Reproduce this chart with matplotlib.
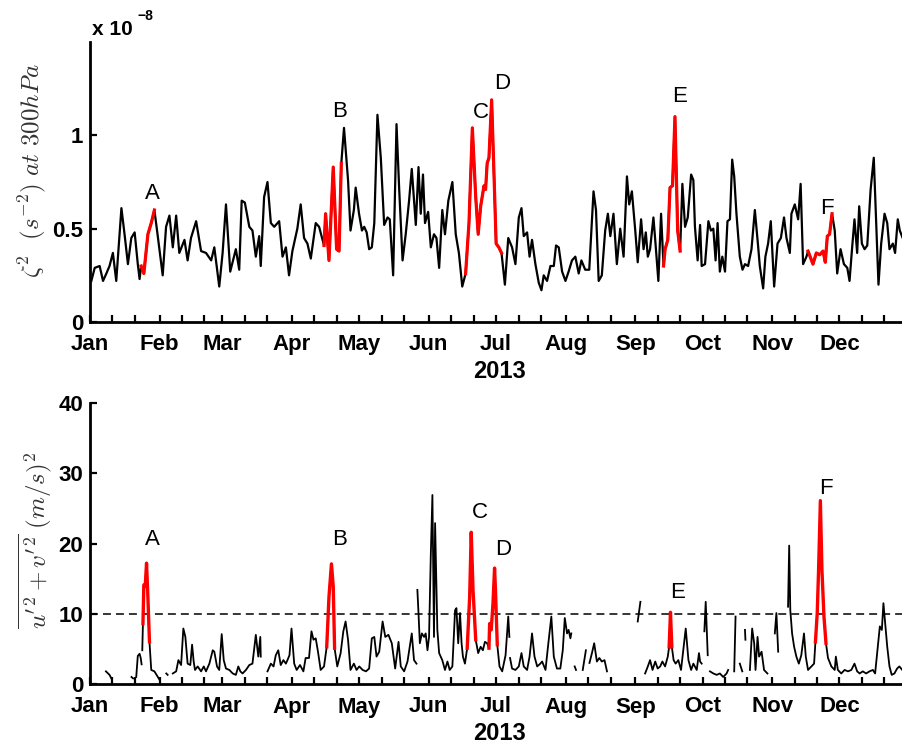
import numpy as np
import matplotlib
matplotlib.use("Agg")
import matplotlib.pyplot as plt

plt.rcParams['font.family'] = ['Liberation Sans', 'DejaVu Sans']
plt.rcParams['mathtext.fontset'] = 'cm'

nan = np.nan

# days since 1 Jan 2013 / relative vorticity squared at 300 hPa (x 1e-8 s^-2)
vort_day = [0.6, 2.1, 4.3, 5.8, 7.3, 8.7, 10.2, 11.7, 14.0, 15.4, 16.9, 18.4, 19.9, 21.3, 22.1,
            22.8, 24.0, 25.8, 27.3, 28.7, 30.2, 32.4, 33.9, 35.4, 36.9, 38.4, 39.8, 42.1, 43.5,
            45.0, 47.3, 49.5, 51.7, 54.0, 55.4, 57.6, 59.1, 60.6, 62.5, 65.0, 66.5, 67.6, 69.0,
            71.0, 72.4, 73.9, 75.4, 76.1, 77.6, 79.1, 80.6, 82.1, 84.3, 85.8, 87.3, 88.7, 90.2,
            92.4, 93.9, 95.4, 96.9, 98.4, 100.6, 102.1, 104.3, 105.0, 106.5, 108.4, 109.9, 111.0,
            112.0, 113.2, 115.0, 116.1, 117.6, 118.4, 119.9, 121.2, 122.2, 123.3, 124.4, 125.6,
            126.7, 128.1, 129.6, 131.1, 132.6, 133.6, 135.1, 136.6, 137.8, 139.3, 140.7, 142.2,
            143.4, 144.4, 145.2, 146.4, 147.4, 148.4, 149.3, 150.7, 151.9, 153.3, 154.4, 155.6,
            157.0, 158.2, 159.7, 161.5, 163.0, 164.4, 165.9, 167.4, 168.9, 170.4, 171.9, 173.0,
            174.1, 175.6, 176.3, 177.0, 177.8, 179.0, 180.0, 181.0, 182.2, 183.4, 184.9, 186.4,
            188.1, 189.6, 191.1, 192.3, 193.3, 194.8, 195.9, 197.0, 198.5, 200.0, 201.2, 202.2,
            203.7, 205.2, 206.7, 207.7, 208.9, 210.4, 211.9, 213.3, 214.8, 216.3, 217.8, 219.0,
            220.7, 222.5, 224.4, 225.5, 226.7, 228.1, 229.6, 230.8, 231.9, 233.3, 234.8, 236.3,
            237.8, 239.3, 240.3, 241.5, 243.0, 244.1, 245.6, 246.7, 247.7, 248.6, 249.6, 251.1,
            251.9, 253.3, 254.5, 255.6, 256.3, 257.5, 258.5, 259.6, 260.7, 261.9, 263.0, 264.0,
            265.2, 266.4, 267.9, 268.9, 269.6, 270.8, 271.9, 272.6, 274.1, 275.6, 276.7, 277.8,
            278.8, 279.7, 280.7, 281.8, 283.0, 284.1, 285.2, 286.2, 287.1, 288.1, 289.6, 290.8,
            291.9, 293.3, 294.8, 296.3, 297.8, 298.5, 300.0, 301.0, 302.2, 303.4, 304.9, 306.4,
            307.9, 309.3, 310.4, 311.9, 312.6, 314.1, 315.6, 316.7, 317.8, 319.3, 320.0, 322.2,
            323.7, 325.2, 326.7, 327.7, 328.6, 329.6, 330.7, 331.9, 333.0, 334.5, 336.0, 337.5,
            338.5, 339.6, 340.7, 341.9, 342.8, 344.0, 345.2, 346.4, 347.9, 349.3, 350.4, 351.4,
            352.6, 354.1, 355.3, 356.3, 357.8, 358.8, 360.0, 360.9, 362.5, 364.0]
vort_1e8 = [0.22, 0.29, 0.30, 0.22, 0.26, 0.30, 0.37, 0.22, 0.61, 0.47, 0.31, 0.45, 0.48, 0.31, 0.23,
            0.30, 0.26, 0.47, 0.53, 0.60, 0.46, 0.25, 0.51, 0.57, 0.40, 0.57, 0.37, 0.44, 0.33,
            0.45, 0.54, 0.38, 0.37, 0.33, 0.40, 0.19, 0.37, 0.63, 0.27, 0.39, 0.28, 0.65, 0.64,
            0.51, 0.49, 0.35, 0.46, 0.30, 0.67, 0.75, 0.53, 0.51, 0.54, 0.35, 0.40, 0.25, 0.38,
            0.50, 0.63, 0.45, 0.42, 0.34, 0.53, 0.51, 0.41, 0.58, 0.33, 0.83, 0.39, 0.38,
            0.85, 1.04, 0.76, 0.49, 0.60, 0.72, 0.58, 0.49, 0.51, 0.48, 0.39, 0.40,
            0.53, 1.11, 0.88, 0.52, 0.56, 0.55, 0.25, 1.06, 0.71, 0.33, 0.47, 0.65,
            0.82, 0.65, 0.52, 0.83, 0.58, 0.79, 0.53, 0.59, 0.40, 0.47, 0.45, 0.29,
            0.60, 0.47, 0.65, 0.75, 0.47, 0.37, 0.19, 0.26, 0.53, 1.04, 0.67, 0.47,
            0.62, 0.73, 0.71, 0.85, 0.88, 1.19, 0.81, 0.42, 0.40, 0.37, 0.20, 0.45,
            0.40, 0.31, 0.56, 0.61, 0.46, 0.48, 0.35, 0.44, 0.31, 0.21, 0.17, 0.25,
            0.22, 0.30, 0.30, 0.41, 0.40, 0.27, 0.22, 0.27, 0.33, 0.35, 0.26, 0.33,
            0.28, 0.28, 0.70, 0.60, 0.22, 0.25, 0.49, 0.58, 0.46, 0.58, 0.31, 0.50,
            0.35, 0.78, 0.63, 0.70, 0.49, 0.32, 0.55, 0.39, 0.48, 0.35, 0.39, 0.56,
            0.44, 0.22, 0.58, 0.30, 0.39, 0.44, 0.72, 0.73, 1.10, 0.49, 0.38, 0.74,
            0.51, 0.56, 0.79, 0.76, 0.51, 0.33, 0.52, 0.30, 0.31, 0.54, 0.49, 0.50,
            0.33, 0.53, 0.27, 0.35, 0.27, 0.54, 0.55, 0.87, 0.78, 0.58, 0.35, 0.28,
            0.31, 0.30, 0.39, 0.60, 0.40, 0.30, 0.18, 0.35, 0.42, 0.54, 0.19, 0.42,
            0.45, 0.56, 0.45, 0.37, 0.58, 0.63, 0.55, 0.74, 0.31, 0.35, 0.38, 0.31,
            0.37, 0.36, 0.38, 0.32, 0.46, 0.47, 0.58, 0.49, 0.26, 0.39, 0.31, 0.29,
            0.22, 0.39, 0.55, 0.37, 0.62, 0.42, 0.39, 0.41, 0.71, 0.88, 0.53, 0.20,
            0.42, 0.58, 0.53, 0.39, 0.42, 0.37, 0.55, 0.49, 0.44, 0.46]

# days since 1 Jan 2013 / eddy kinetic energy u'^2+v'^2 (m/s)^2, nan = missing
wind_day = [7.1, 8.7, 9.5, nan, 18.5, 19.2, nan, 20.6, 21.3, 22.1, 22.6, 23.0, nan,
            23.3, 23.6, 24.0, 24.6, 25.2, 25.8, 26.5, 27.3, 28.7, 30.2, 31.0, nan, 34.0, 34.6, nan,
            36.9, 38.4, 39.4, 40.6, 41.6, 42.5, 43.5, 44.7, 45.5, 46.2, 46.8, 48.0, 49.5, 50.7,
            51.7, 53.2, 54.7, 55.4, 56.6, 57.6, 58.7, 59.6, 60.6, 62.1, 63.6, 65.0, 66.1, 67.0,
            68.0, 69.5, 71.0, 72.4, 73.9, 75.0, 75.9, 76.1, nan,
            79.1, 80.6, 81.8, 82.8, 83.9, 85.0, 86.2, 87.3, 88.0, 88.9, 89.8, 91.0, 92.1, 93.6,
            95.1, 96.1, 97.6, 98.7, 99.6, 100.6, 101.6, 102.8, 104.3, 105.5, 106.5, 107.6, 108.4,
            109.0, 110.2, 111.7, 112.9, 113.9, 115.0, 116.1, 117.6, 118.8, 120.0, 121.5, 123.0,
            124.4, 125.6, 126.7, 127.7, 128.9, 130.4, 131.6, 133.0, 134.5, 136.0, 137.5, 138.5,
            140.0, 141.5, 143.4, 144.4, 145.5, nan, 145.9, 146.4, 147.0, 147.9, 148.9, 149.6,
            150.4, 151.1, 151.9, 152.6, 153.3, 153.8, 154.8, 155.6, 157.0, 158.2, 159.3, 160.3,
            161.5, 162.7, 163.3, 164.1, 164.9, 165.6, 166.2, 167.1, 168.1, 169.2, 169.9, 170.7,
            171.9, 173.0, 174.1, 175.1, 176.0, 177.0, 177.8, 178.1, 178.8, 179.6, 180.3, 180.7,
            181.5, 182.5, 183.7, 185.2, 186.4, 186.9, nan, 187.2, 188.1, 189.6, 191.1, 192.3,
            193.3, 194.8, 195.9, 197.0, 198.1, 199.3, 200.7, 201.5, 203.0, 204.1, 205.6, 206.7,
            208.1, 209.6, 210.7, 211.6, 212.6, 213.3, 214.1, 214.5, nan, 216.0, 216.6, nan,
            219.6, 221.0, nan, 222.6, 223.7, 224.7, 225.9, 227.0, 228.1, 229.3, 230.4, nan,
            244.1, 245.3, nan,
            247.4, 248.6, 249.6, 250.7, 251.9, 253.0, 254.1, 255.1, 256.3, 257.5, 258.1, 258.7,
            259.3, 260.1, 261.0, 262.2, 263.4, 264.4, 265.5, 266.7, 267.9, 268.9, 270.4, 271.4,
            271.9, 272.6, nan, 273.8, 274.4, 275.3, nan, 276.3, 277.8, 279.3, 280.7, 282.2, 283.7,
            284.4, nan, 287.1, 287.7, nan, 289.6, 290.7, nan, 291.9, 292.1, nan, 294.1, 295.1,
            296.0, 296.6, 297.5, 298.2, 299.3, 300.4, 301.9, nan, 305.2, 305.9, 306.7, nan,
            311.1, 311.6, 312.1, 312.9, 313.8, 314.8, 315.9, 317.0, 318.2, 319.0, 320.0, 321.5,
            322.7, 323.3, 324.1, 324.7, 325.5, 326.2, 327.1, 328.0, 328.9, 330.4, 331.9, 332.4,
            333.3, 334.8, 336.3, 337.8, 339.3, 340.7, 341.9, 343.0, 344.4, 345.9, 347.4, 348.9,
            349.9, 351.1, 352.0, 352.9, 353.6, 354.4, 355.3, 356.3, 357.3, 358.5, 359.7, 360.7,
            362.0]
wind_val = [1.8, 1.3, 0.8, nan, 1.0, 0.8, nan, 1.0, 4.0, 4.3, 3.7, 2.8, nan,
            4.8, 8.6, 14.1, 13.9, 17.2, 12.4, 6.0, 2.0, 1.8, 1.0, 0.6, nan, 1.5, 1.3, nan,
            1.5, 1.8, 3.4, 2.7, 7.9, 6.7, 2.9, 2.7, 5.6, 3.2, 2.0, 2.5, 1.8, 2.5,
            1.8, 2.9, 4.8, 4.6, 2.5, 2.0, 7.1, 3.4, 2.2, 2.0, 1.5, 1.3, 2.5, 1.8,
            1.5, 2.0, 2.7, 2.9, 7.0, 3.9, 6.7, 3.9, nan,
            1.8, 2.9, 2.5, 4.1, 4.8, 2.7, 3.4, 2.9, 3.4, 4.1, 7.9, 2.9, 2.0, 2.7,
            1.8, 3.7, 3.7, 7.5, 6.3, 6.5, 4.6, 2.0, 2.5, 5.3, 12.4, 17.1, 13.9,
            5.1, 2.5, 4.4, 7.5, 8.9, 6.3, 2.0, 2.9, 2.0, 2.5, 2.0, 1.8,
            2.2, 6.5, 6.7, 3.9, 4.6, 8.9, 6.7, 7.0, 5.8, 2.2, 6.0, 2.5,
            1.8, 3.2, 7.2, 3.4, 2.9, nan, 13.4, 10.1, 5.8, 7.2, 6.7, 7.2,
            4.8, 6.7, 18.6, 26.9, 6.7, 22.9, 7.7, 4.4, 3.4, 2.0, 3.2, 2.0,
            2.5, 10.5, 10.8, 5.8, 10.1, 5.8, 3.9, 2.9, 5.1, 12.4, 21.6, 13.4,
            6.3, 4.4, 5.3, 4.8, 6.0, 5.8, 5.1, 8.6, 7.7, 11.5, 16.5, 13.4,
            5.6, 2.5, 1.8, 4.1, 9.6, 6.7, nan, 3.7, 2.2, 2.0, 2.5, 4.4,
            2.5, 2.0, 3.9, 7.2, 3.9, 2.5, 2.9, 3.2, 2.0, 5.3, 9.6, 3.9,
            2.2, 2.2, 4.8, 9.4, 7.2, 7.7, 6.5, 7.2, nan, 2.5, 2.0, nan,
            2.0, 4.8, nan, 3.0, 4.4, 5.8, 3.2, 3.7, 3.2, 3.4, 1.8, nan,
            8.9, 11.7, nan,
            1.5, 2.5, 3.4, 2.0, 3.2, 2.2, 2.5, 3.2, 2.5, 3.9, 5.3, 10.2,
            5.3, 3.4, 2.9, 3.4, 2.0, 4.8, 7.9, 3.4, 2.0, 2.9, 2.0, 4.4,
            3.2, 2.9, nan, 7.5, 11.7, 4.1, nan, 1.8, 1.5, 1.3, 1.5, 1.0, 1.5,
            2.0, nan, 1.8, 9.6, nan, 2.9, 1.8, nan, 7.7, 6.3, nan, 2.0, 7.9,
            5.8, 2.0, 6.7, 3.9, 4.6, 2.0, 1.5, nan, 7.2, 10.1, 4.6, nan,
            11.0, 19.7, 10.5, 7.2, 5.3, 3.9, 2.9, 4.1, 7.2, 3.9, 2.0, 2.5,
            2.9, 6.0, 10.1, 16.2, 26.1, 16.2, 9.6, 5.8, 3.7, 2.5, 2.0, 3.9,
            2.0, 1.5, 2.0, 1.8, 2.0, 2.9, 1.8, 1.5, 1.8, 1.5, 1.8, 2.0,
            1.5, 5.3, 8.2, 7.7, 11.5, 8.6, 5.3, 2.5, 1.3, 1.5, 2.2, 2.5,
            2.0]

# highlighted event windows (days) and letter labels
events = ['A', 'B', 'C', 'D', 'E', 'F']
vort_red = [(22.5, 29.4), (104.3, 112.0), (167.4, 183.4), (255.5, 263.1), (319.8, 330.8)]
wind_red = [(23.5, 26.6), (105.4, 109.1), (168.0, 172.0), (177.7, 181.6), (258.0, 259.4), (323.2, 328.1)]
vort_lab_day = [27.6, 111.0, 174.0, 183.5, 262.7, 328.4]
vort_lab_val = [0.69, 1.13, 1.12, 1.28, 1.21, 0.61]
wind_lab_day = [27.6, 111.0, 173.8, 184.0, 262.0, 328.0]
wind_lab_val = [20.5, 20.5, 24.4, 19.2, 13.0, 27.9]
threshold = 10

months = ['Jan', 'Feb', 'Mar', 'Apr', 'May', 'Jun', 'Jul', 'Aug', 'Sep', 'Oct', 'Nov', 'Dec']
month_start = [0, 31, 59, 90, 120, 151, 181, 212, 243, 273, 304, 334]


def style_axes(ax):
    ax.set_xlim(0, 365)
    ax.spines['top'].set_visible(False)
    ax.spines['right'].set_visible(False)
    for s in ['left', 'bottom']:
        ax.spines[s].set_linewidth(2)
    ax.set_xticks(month_start)
    ax.set_xticklabels(months)
    ax.set_xticks([m + k for m in month_start for k in (10, 20)], minor=True)
    ax.tick_params(which='both', direction='in', length=5, width=1.6, labelsize=16)
    ax.tick_params(axis='x', pad=9)
    ax.tick_params(axis='y', pad=5)
    for t in ax.get_xticklabels() + ax.get_yticklabels():
        t.set_fontweight('bold')


def red_parts(ax, day, val, windows, lw):
    day = np.asarray(day)
    val = np.asarray(val)
    for lo, hi in windows:
        m = (day >= lo) & (day <= hi)
        ax.plot(day[m], val[m], color='red', lw=lw, zorder=3)


fig = plt.figure(figsize=(9.02, 7.46), dpi=100)
W, H = 902, 746
ax1 = fig.add_axes([90 / W, (H - 322) / H, 819 / W, 280 / H])
ax2 = fig.add_axes([90 / W, (H - 684) / H, 819 / W, 281 / H])

# top panel
ax1.plot(vort_day, vort_1e8, color='black', lw=1.6)
red_parts(ax1, vort_day, vort_1e8, vort_red, 2.3)
ax1.set_ylim(0, 1.5)
ax1.set_yticks([0, 0.5, 1])
ax1.set_yticklabels(['0', '0.5', '1'])
style_axes(ax1)
for s, d, v in zip(events, vort_lab_day, vort_lab_val):
    ax1.text(d, v, s, ha='center', va='center', fontsize=16)

# bottom panel
ax2.plot(wind_day, wind_val, color='black', lw=1.3)
red_parts(ax2, wind_day, wind_val, wind_red, 2.4)
ax2.axhline(threshold, color='black', lw=1.1, ls=(0, (5.2, 3.3)))
ax2.set_ylim(0, 40)
ax2.set_yticks([0, 10, 20, 30, 40])
style_axes(ax2)
for s, d, v in zip(events, wind_lab_day, wind_lab_val):
    ax2.text(d, v, s, ha='center', va='center', fontsize=16)

# labels
fig.text(500 / W, 1 - 372 / H, '2013', ha='center', va='center', fontsize=17, fontweight='bold')
fig.text(500 / W, 1 - 733 / H, '2013', ha='center', va='center', fontsize=17, fontweight='bold')
fig.text(92 / W, 1 - 35 / H, 'x 10', ha='left', va='baseline', fontsize=15, fontweight='bold')
fig.text(137 / W, 1 - 20 / H, '\u22128', ha='left', va='baseline', fontsize=10, fontweight='bold')
fig.text(32 / W, 1 - 171 / H, r'$\zeta^2\ \ (s^{-2})\ at\ 300hPa$', rotation=90,
         ha='center', va='center', fontsize=18, color='#333333')
fig.text(35 / W, 1 - 540 / H, r"$\overline{u'^2+v'^2}\ (m/s)^2$", rotation=90,
         ha='center', va='center', fontsize=18, color='#333333')

fig.savefig('out.png', dpi=100)
